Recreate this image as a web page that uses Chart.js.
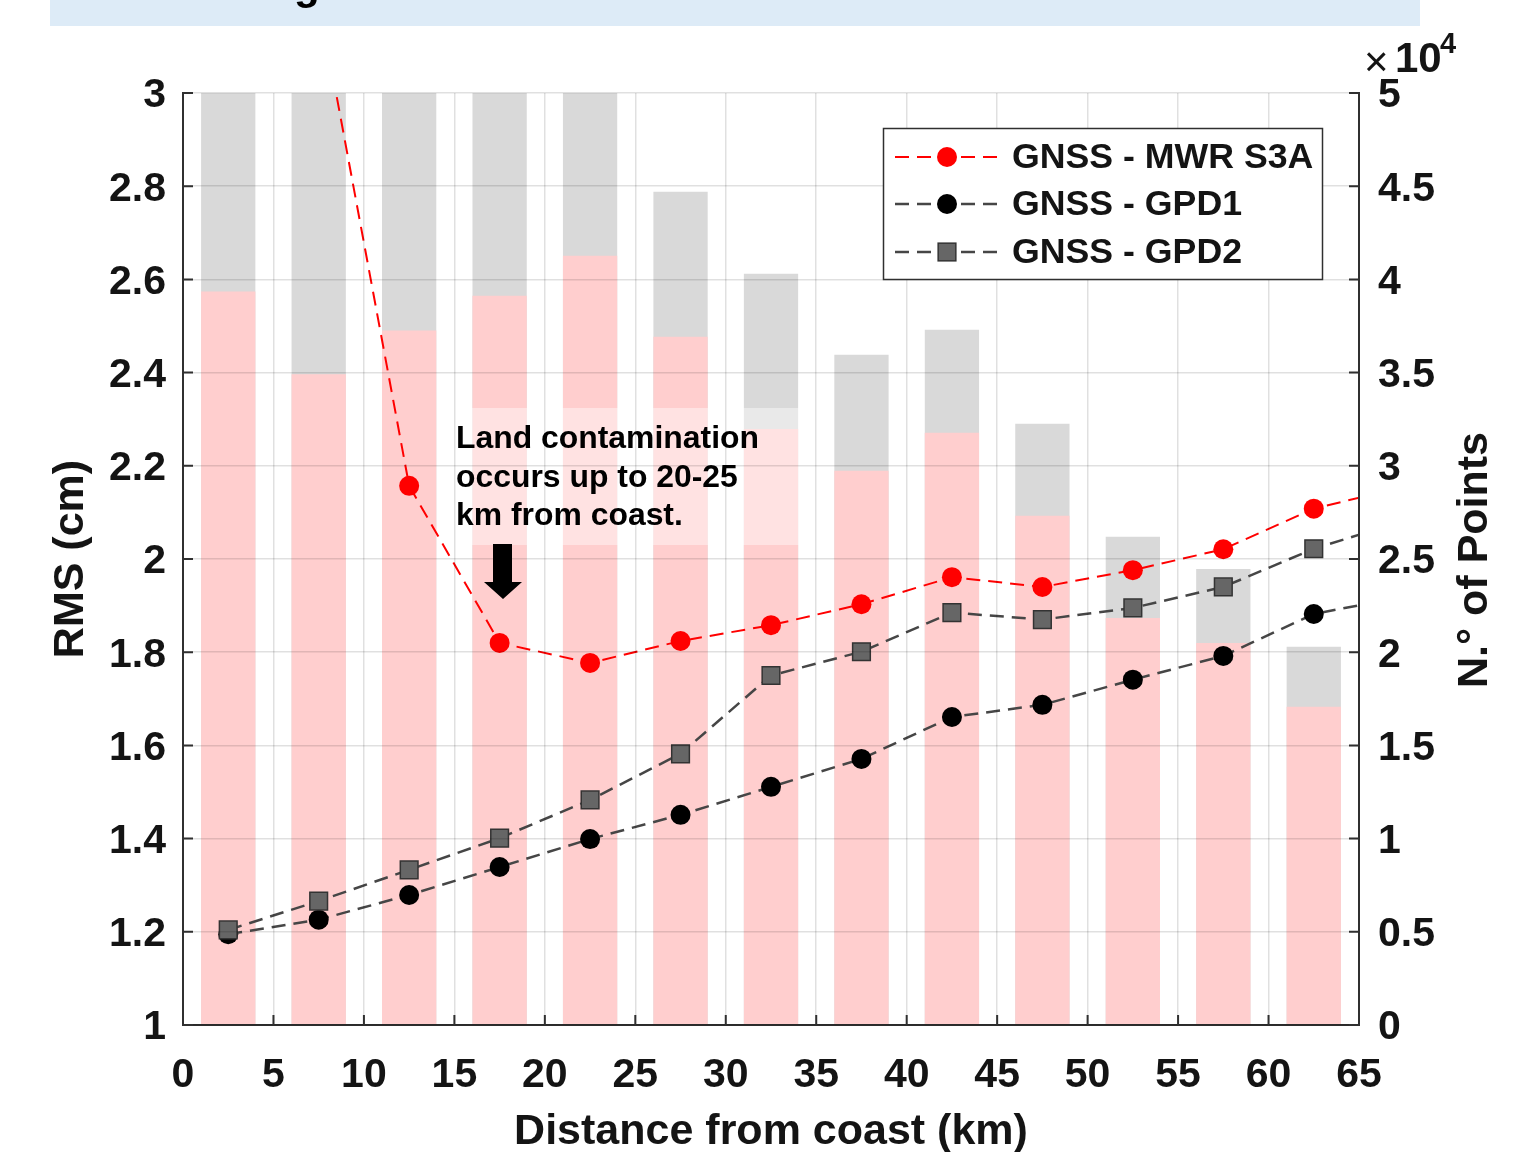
<!DOCTYPE html>
<html>
<head>
<meta charset="utf-8">
<script src="https://cdn.jsdelivr.net/npm/chart.js@4.4.1/dist/chart.umd.min.js"></script>
<style>
  html, body { margin: 0; padding: 0; background: #ffffff; }
  canvas { display: block; }
</style>
</head>
<body>
<canvas id="chart" width="1527" height="1152"></canvas>
<script>
// ---------------- data ----------------
const distances = [2.5, 7.5, 12.5, 17.5, 22.5, 27.5, 32.5, 37.5, 42.5, 47.5, 52.5, 57.5, 62.5];
const lineDistances = [2.5, 7.5, 12.5, 17.5, 22.5, 27.5, 32.5, 37.5, 42.5, 47.5, 52.5, 57.5, 62.5, 67.5];

// number of points per bin (grey = all, pink = used); first five grey bars exceed the axis top
const pointsAll   = [52000, 53000, 52500, 51500, 51000, 44700, 40300, 35960, 37300, 32250, 26190, 24470, 20290];
const pointsValid = [39350, 34910, 37260, 39120, 41270, 36920, 31980, 29730, 31770, 27320, 21840, 20500, 17070];

// RMS (cm) per bin
const rmsMwr  = [4.10, 3.20, 2.157, 1.820, 1.777, 1.824, 1.858, 1.903, 1.961, 1.940, 1.976, 2.021, 2.108, 2.155];
const rmsGpd1 = [1.195, 1.226, 1.279, 1.339, 1.399, 1.451, 1.511, 1.571, 1.661, 1.687, 1.741, 1.792, 1.882, 1.919];
const rmsGpd2 = [1.204, 1.266, 1.333, 1.401, 1.483, 1.582, 1.750, 1.801, 1.885, 1.870, 1.895, 1.940, 2.022, 2.082];

const seriesLabels = ['GNSS - MWR S3A', 'GNSS - GPD1', 'GNSS - GPD2'];
const barLabels = ['All points', 'Valid points'];

const xTicks = [0, 5, 10, 15, 20, 25, 30, 35, 40, 45, 50, 55, 60, 65];
const rmsTicks = [1, 1.2, 1.4, 1.6, 1.8, 2, 2.2, 2.4, 2.6, 2.8, 3];
const countTicks = [0, 5000, 10000, 15000, 20000, 25000, 30000, 35000, 40000, 45000, 50000];

const xTitle = 'Distance from coast (km)';
const yTitle = 'RMS (cm)';
const y2Title = 'N.\u00B0 of Points';
const annotationLines = ['Land contamination', 'occurs up to 20-25', 'km from coast.'];
const bannerFragment = 'g';

// ---------------- styles ----------------
const FONT = '"Liberation Sans", Arial, Helvetica, sans-serif';
const AXIS = '#303030';
const TEXT = '#141414';
const GRID = 'rgba(0,0,0,0.12)';

Chart.defaults.font.family = FONT;
Chart.defaults.font.weight = 'bold';
Chart.defaults.color = TEXT;

const dashes = [14, 8];

const overlayPlugin = {
  id: 'overlay',
  beforeDraw(chart) {
    const ctx = chart.ctx;
    ctx.save();
    ctx.fillStyle = '#ffffff';
    ctx.fillRect(0, 0, chart.width, chart.height);
    ctx.fillStyle = '#ddebf7';
    ctx.fillRect(50, 0, 1370, 26);
    ctx.fillStyle = '#000';
    ctx.font = 'bold 42px ' + FONT;
    ctx.textBaseline = 'alphabetic';
    ctx.textAlign = 'left';
    ctx.fillText(bannerFragment, 294, -1);
    ctx.restore();
  },
  afterDatasetDraw(chart, args) {
    // translucent white backing behind the annotation, over the bars only
    if (args.index !== 3) return;
    const ctx = chart.ctx;
    ctx.save();
    ctx.fillStyle = 'rgba(255,255,255,0.42)';
    ctx.fillRect(445, 408, 367, 137);
    ctx.restore();
  },
  afterDraw(chart) {
    const ctx = chart.ctx;
    const area = chart.chartArea;
    const sx = chart.scales.x, sy = chart.scales.y, sy2 = chart.scales.y2;
    ctx.save();

    // inward tick marks
    ctx.strokeStyle = AXIS;
    ctx.lineWidth = 2;
    ctx.beginPath();
    sx.ticks.forEach(t => {
      const p = sx.getPixelForValue(t.value);
      ctx.moveTo(p, area.bottom); ctx.lineTo(p, area.bottom - 10);
    });
    sy.ticks.forEach(t => {
      const p = sy.getPixelForValue(t.value);
      ctx.moveTo(area.left, p); ctx.lineTo(area.left + 10, p);
    });
    sy2.ticks.forEach(t => {
      const p = sy2.getPixelForValue(t.value);
      ctx.moveTo(area.right, p); ctx.lineTo(area.right - 10, p);
    });
    ctx.stroke();

    // legend (line series only)
    ctx.fillStyle = '#ffffff';
    ctx.fillRect(883, 128, 440, 152);
    ctx.strokeStyle = AXIS;
    ctx.lineWidth = 1.5;
    ctx.strokeRect(883.5, 128.5, 439, 151);
    const rows = [157, 204, 252];
    for (let i = 0; i < 3; i++) {
      const ds = chart.data.datasets[i];
      const y = rows[i];
      ctx.setLineDash(ds.borderDash);
      ctx.strokeStyle = ds.borderColor;
      ctx.lineWidth = ds.borderWidth;
      ctx.beginPath(); ctx.moveTo(895, y); ctx.lineTo(999, y); ctx.stroke();
      ctx.setLineDash([]);
      ctx.fillStyle = ds.pointBackgroundColor;
      ctx.strokeStyle = ds.pointBorderColor;
      ctx.lineWidth = ds.pointBorderWidth;
      if (ds.pointStyle === 'rect') {
        const h = ds.pointRadius * Math.SQRT1_2;
        ctx.fillRect(947 - h, y - h, 2 * h, 2 * h);
        if (ds.pointBorderWidth) ctx.strokeRect(947 - h, y - h, 2 * h, 2 * h);
      } else {
        ctx.beginPath(); ctx.arc(947, y, ds.pointRadius, 0, Math.PI * 2); ctx.fill();
        if (ds.pointBorderWidth) ctx.stroke();
      }
      ctx.fillStyle = TEXT;
      ctx.font = 'bold 35.7px ' + FONT;
      ctx.textAlign = 'left';
      ctx.textBaseline = 'middle';
      ctx.fillText(ds.label, 1012, y + 1);
    }

    // annotation text
    ctx.fillStyle = '#000';
    ctx.font = 'bold 31.9px ' + FONT;
    ctx.textAlign = 'left';
    ctx.textBaseline = 'alphabetic';
    const bl = [448, 487, 525];
    annotationLines.forEach((s, i) => ctx.fillText(s, 456, bl[i]));

    // arrow
    ctx.beginPath();
    ctx.moveTo(493, 544); ctx.lineTo(512, 544); ctx.lineTo(512, 582);
    ctx.lineTo(522, 582); ctx.lineTo(503, 599); ctx.lineTo(484, 582);
    ctx.lineTo(493, 582); ctx.closePath();
    ctx.fill();

    // x10^4 exponent label
    ctx.fillStyle = TEXT;
    ctx.font = 'normal 42px ' + FONT;
    ctx.fillText('\u00D7', 1364, 76);
    ctx.font = 'bold 42px ' + FONT;
    ctx.fillText('10', 1395, 72);
    ctx.font = 'bold 29px ' + FONT;
    ctx.fillText('4', 1440, 53);

    // right axis title (reads bottom-to-top)
    ctx.translate(1487, 560);
    ctx.rotate(-Math.PI / 2);
    ctx.font = 'bold 43px ' + FONT;
    ctx.textAlign = 'center';
    ctx.textBaseline = 'alphabetic';
    ctx.fillText(y2Title, 0, 0);
    ctx.restore();
  }
};

const toXY = (xs, ys) => xs.map((x, i) => ({ x: x, y: ys[i] }));

new Chart(document.getElementById('chart'), {
  type: 'bar',
  data: {
    datasets: [
      {
        type: 'line', label: seriesLabels[0], data: toXY(lineDistances, rmsMwr), yAxisID: 'y',
        borderColor: '#ff0000', borderWidth: 2, borderDash: dashes,
        pointStyle: 'circle', pointRadius: 10, pointBackgroundColor: '#ff0000',
        pointBorderColor: '#ff0000', pointBorderWidth: 0, tension: 0, order: 0, clip: 0
      },
      {
        type: 'line', label: seriesLabels[1], data: toXY(lineDistances, rmsGpd1), yAxisID: 'y',
        borderColor: '#464646', borderWidth: 2.5, borderDash: dashes,
        pointStyle: 'circle', pointRadius: 10, pointBackgroundColor: '#000000',
        pointBorderColor: '#000000', pointBorderWidth: 0, tension: 0, order: 2, clip: 0
      },
      {
        type: 'line', label: seriesLabels[2], data: toXY(lineDistances, rmsGpd2), yAxisID: 'y',
        borderColor: '#464646', borderWidth: 2.5, borderDash: dashes,
        pointStyle: 'rect', pointRadius: 12.5, pointBackgroundColor: '#666666',
        pointBorderColor: '#333333', pointBorderWidth: 1.5, tension: 0, order: 1, clip: 0
      },
      {
        type: 'bar', label: barLabels[1], data: toXY(distances, pointsValid), yAxisID: 'y2',
        backgroundColor: 'rgb(255,206,206)', borderWidth: 0, grouped: false,
        barPercentage: 0.6, categoryPercentage: 1, order: 3, clip: 0
      },
      {
        type: 'bar', label: barLabels[0], data: toXY(distances, pointsAll), yAxisID: 'y2',
        backgroundColor: 'rgb(217,217,217)', borderWidth: 0, grouped: false,
        barPercentage: 0.6, categoryPercentage: 1, order: 4, clip: 0
      }
    ]
  },
  options: {
    responsive: false,
    devicePixelRatio: 1,
    animation: false,
    events: [],
    layout: { padding: { top: 93, left: 0, right: 0, bottom: 0 } },
    plugins: { legend: { display: false }, tooltip: { enabled: false } },
    scales: {
      x: {
        type: 'linear', position: 'bottom', min: 0, max: 65, offset: false,
        afterBuildTicks: s => { s.ticks = xTicks.map(v => ({ value: v })); },
        afterFit: s => { s.height = 127; },
        grid: { display: true, color: GRID, lineWidth: 1.5, drawTicks: false, offset: false, z: 1 },
        border: { display: true, color: AXIS, width: 2, z: 1 },
        ticks: {
          autoSkip: false, maxRotation: 0, padding: 26, color: TEXT,
          font: { size: 41, weight: 'bold', lineHeight: 1.2 },
          callback: v => String(v)
        },
        title: {
          display: true, text: xTitle, color: TEXT,
          font: { size: 43, weight: 'bold', lineHeight: 1 },
          padding: { top: 0, bottom: -2 }
        }
      },
      y: {
        type: 'linear', position: 'left', min: 1, max: 3,
        afterBuildTicks: s => { s.ticks = rmsTicks.map(v => ({ value: v })); },
        afterFit: s => { s.width = 183; },
        grid: { display: true, color: GRID, lineWidth: 1.5, drawTicks: false, z: 1 },
        border: { display: true, color: AXIS, width: 2, z: 1 },
        ticks: {
          padding: 17, color: TEXT, labelOffset: 3,
          font: { size: 41, weight: 'bold' },
          callback: v => String(Math.round(v * 10) / 10)
        },
        title: {
          display: true, text: yTitle, color: TEXT,
          font: { size: 43, weight: 'bold', lineHeight: 1 },
          padding: { top: 50, bottom: 0 }
        }
      },
      y2: {
        type: 'linear', position: 'right', min: 0, max: 50000,
        afterBuildTicks: s => { s.ticks = countTicks.map(v => ({ value: v })); },
        afterFit: s => { s.width = 168; },
        grid: { display: false, drawTicks: false },
        border: { display: true, color: AXIS, width: 2, z: 1 },
        ticks: {
          padding: 19, color: TEXT, labelOffset: 3,
          font: { size: 41, weight: 'bold' },
          callback: v => String(v / 10000)
        },
        title: { display: false }
      }
    }
  },
  plugins: [overlayPlugin]
});
</script>
</body>
</html>
